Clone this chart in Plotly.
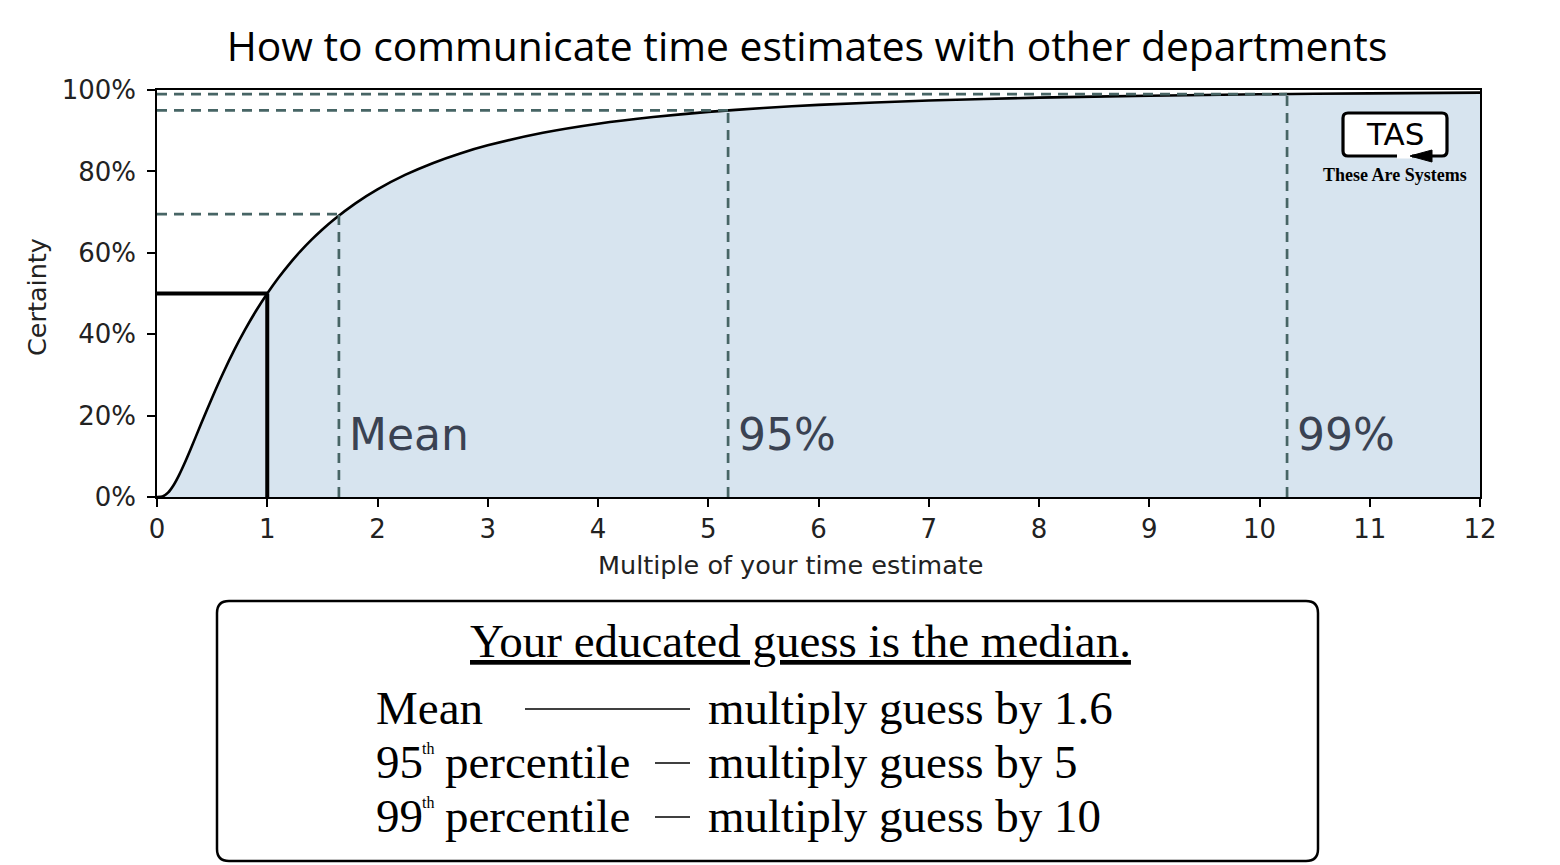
import plotly.graph_objects as go

# ---- data ----
multiple = [0, 0.05, 0.1, 0.15, 0.2, 0.25, 0.3, 0.4, 0.5, 0.6, 0.7, 0.8, 0.9, 1.0,
            1.1, 1.2, 1.3, 1.4, 1.5, 1.6, 1.8, 2.0, 2.25, 2.5, 2.75, 3.0, 3.5, 4.0,
            4.5, 5.0, 5.5, 6.0, 7.0, 8.0, 9.0, 10.0, 11.0, 12.0]
certainty = [0, 0.14, 1.07, 2.89, 5.38, 8.28, 11.43, 17.98, 24.41, 30.47, 36.07, 41.17,
             45.81, 50.0, 53.8, 57.23, 60.35, 63.17, 65.74, 68.08, 72.16, 75.59, 79.13,
             82.02, 84.41, 86.4, 89.49, 91.72, 93.37, 94.62, 95.59, 96.34, 97.42, 98.12,
             98.6, 98.94, 99.18, 99.35]

median_x, median_level = 1.0, 50
marker_names = ["Mean", "95%", "99%"]
marker_x = [1.65, 5.18, 10.25]
marker_level = [69.5, 95.0, 99.0]

x_ticks = list(range(0, 13))
y_ticks = [0, 20, 40, 60, 80, 100]
y_tick_text = [f"{v}%" for v in y_ticks]

# ---- layout geometry (page pixels) ----
W, H = 1560, 865
OFF = 8  # page body margin
L, R, T, B = 157, 1480, 90, 497


def px(x):
    return (x - L) / (R - L)


def py(y):
    return (B - y) / (B - T)


def rounded_rect(x0, y0, x1, y1, r):
    pts = [
        f"M {px(x0 + r)} {py(y0)}",
        f"L {px(x1 - r)} {py(y0)}",
        f"Q {px(x1)} {py(y0)} {px(x1)} {py(y0 + r)}",
        f"L {px(x1)} {py(y1 - r)}",
        f"Q {px(x1)} {py(y1)} {px(x1 - r)} {py(y1)}",
        f"L {px(x0 + r)} {py(y1)}",
        f"Q {px(x0)} {py(y1)} {px(x0)} {py(y1 - r)}",
        f"L {px(x0)} {py(y0 + r)}",
        f"Q {px(x0)} {py(y0)} {px(x0 + r)} {py(y0)} Z",
    ]
    return " ".join(pts)


fig = go.Figure()

fig.add_trace(go.Scatter(
    x=multiple, y=certainty, mode="lines",
    line=dict(color="black", width=2.6, shape="spline", smoothing=0.6),
    fill="tozeroy", fillcolor="#d7e4ef", hoverinfo="skip", showlegend=False))

DASH_COL = "#476565"
shapes = []
for mx, ml in zip(marker_x, marker_level):
    shapes.append(dict(type="line", xref="x", yref="y", x0=0, x1=mx, y0=ml, y1=ml,
                       line=dict(color=DASH_COL, width=2.7, dash="10px,7px")))
    shapes.append(dict(type="line", xref="x", yref="y", x0=mx, x1=mx, y0=0, y1=ml,
                       line=dict(color=DASH_COL, width=2.7, dash="10px,7px")))

# median lines
shapes.append(dict(type="line", xref="x", yref="y", x0=0, x1=median_x,
                   y0=median_level, y1=median_level, line=dict(color="black", width=4)))
shapes.append(dict(type="line", xref="x", yref="y", x0=median_x, x1=median_x,
                   y0=0, y1=median_level, line=dict(color="black", width=4)))

# logo
shapes.append(dict(type="path", xref="paper", yref="paper",
                   path=rounded_rect(1343, 113, 1447, 156, 5),
                   line=dict(color="black", width=3.2), fillcolor="white", layer="above"))
shapes.append(dict(type="line", xref="paper", yref="paper",
                   x0=px(1397), x1=px(1412), y0=py(156), y1=py(156),
                   line=dict(color="white", width=5), layer="above"))
shapes.append(dict(type="path", xref="paper", yref="paper",
                   path=f"M {px(1410)} {py(156)} L {px(1432)} {py(150)} L {px(1432)} {py(162)} Z",
                   line=dict(color="black", width=1), fillcolor="black", layer="above"))

# bottom box
shapes.append(dict(type="path", xref="paper", yref="paper",
                   path=rounded_rect(217, 601, 1318, 861, 12),
                   line=dict(color="black", width=2.5), fillcolor="white"))
# row connector lines
shapes.append(dict(type="line", xref="paper", yref="paper", x0=px(525), x1=px(690),
                   y0=py(709), y1=py(709), line=dict(color="black", width=1.3)))
for yy in (763, 817):
    shapes.append(dict(type="line", xref="paper", yref="paper", x0=px(655), x1=px(690),
                       y0=py(yy), y1=py(yy), line=dict(color="black", width=1.3)))

annotations = []


def note(x, y, text, font, xanchor="center", yanchor="middle", **kw):
    annotations.append(dict(x=x, y=y, xref="paper", yref="paper", text=text,
                            showarrow=False, xanchor=xanchor, yanchor=yanchor,
                            font=font, **kw))


# marker labels
for name, mx in zip(marker_names, marker_x):
    annotations.append(dict(x=mx, y=15.3, xref="x", yref="y", text=name, showarrow=False,
                            xanchor="left", yanchor="middle", xshift=8,
                            font=dict(family="DejaVu Sans", size=44, color="#3a4252")))

AXF = dict(family="DejaVu Sans", size=25.5, color="#222")
note(px(37), py(297), "Certainty", AXF, textangle=-90)
note(px(790), py(565), "Multiple of your time estimate", AXF)

# logo text
note(px(1395), py(134), "TAS", dict(family="DejaVu Sans", size=31, color="black"))
note(px(1395), py(175), "<b>These Are Systems</b>",
     dict(family="Liberation Serif", size=18, color="black"))

SERIF = dict(family="Liberation Serif", size=47, color="black")
note(px(800), py(641), "<u>Your educated guess is the median.</u>", SERIF)

rows = [
    (708, "Mean", None, None, "multiply guess by 1.6"),
    (762, "95", "th", "percentile", "multiply guess by 5"),
    (816, "99", "th", "percentile", "multiply guess by 10"),
]
for yy, a, sup, b, c in rows:
    note(px(374), py(yy), a, SERIF, xanchor="left")
    if sup:
        note(px(420), py(yy - 14), sup, dict(family="Liberation Serif", size=16, color="black"),
             xanchor="left")
        note(px(443), py(yy), b, SERIF, xanchor="left")
    note(px(706), py(yy), c, SERIF, xanchor="left")

fig.update_layout(
    width=W, height=H,
    margin=dict(l=L - OFF, r=W - (L - OFF) - (R - L), t=T - OFF, b=H - (T - OFF) - (B - T)),
    paper_bgcolor="white", plot_bgcolor="white",
    title=dict(text="How to communicate time estimates with other departments",
               x=(807 - OFF) / W, xanchor="center", y=1 - (47 - OFF) / H, yanchor="middle",
               font=dict(family="Open Sans", size=40.8, color="black")),
    shapes=shapes, annotations=annotations, showlegend=False,
)
TF = dict(family="DejaVu Sans", size=26, color="#222")
fig.update_xaxes(range=[0, 12], tickvals=x_ticks, ticks="outside", ticklen=8, tickwidth=1.5,
                 tickcolor="black", showline=True, linecolor="black", linewidth=1.5,
                 mirror=True, showgrid=False, zeroline=False, tickfont=TF)
fig.update_yaxes(range=[0, 100], tickvals=y_ticks, ticktext=y_tick_text, ticks="outside",
                 ticklen=8, tickwidth=1.5, tickcolor="black", showline=True,
                 linecolor="black", linewidth=1.5, mirror=True, showgrid=False,
                 zeroline=False, tickfont=TF, ticklabelstandoff=6)

fig.write_html("out.html")
